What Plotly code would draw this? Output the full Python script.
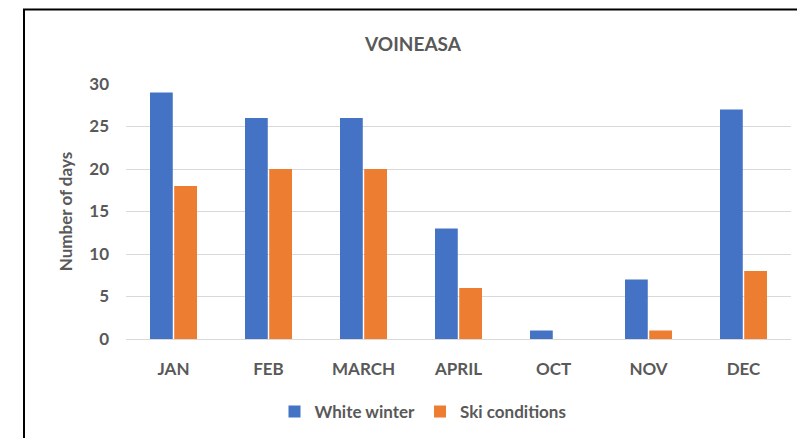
import plotly.graph_objects as go

months = ["JAN", "FEB", "MARCH", "APRIL", "OCT", "NOV", "DEC"]
white_winter = [29, 26, 26, 13, 1, 7, 27]
ski_conditions = [18, 20, 20, 6, 0, 1, 8]

font_fam = "Lato, 'Open Sans', sans-serif"
gray = "#595959"

fig = go.Figure()
fig.add_trace(go.Bar(x=months, y=white_winter, name="White winter",
                     marker=dict(color="#4472C4", line=dict(width=0))))
fig.add_trace(go.Bar(x=months, y=ski_conditions, name="Ski conditions",
                     marker=dict(color="#ED7D31", line=dict(width=0))))

W, H = 797, 438
l, r, t, b = 126, 6, 84, 99
pw = W - l - r
ph = H - t - b

fig.update_layout(
    width=W, height=H,
    margin=dict(l=l, r=r, t=t, b=b),
    paper_bgcolor="white", plot_bgcolor="white",
    barmode="group", bargap=0.49, bargroupgap=0.06,
    title=dict(text="<b>VOINEASA</b>", x=413 / W, xanchor="center",
               y=1 - 44 / H, yanchor="middle",
               font=dict(family=font_fam, size=19, color=gray)),
    font=dict(family=font_fam, color=gray),
    xaxis=dict(tickfont=dict(size=17, color=gray, weight="bold"),
               showgrid=False, showline=False, ticks="", ticklabelstandoff=18),
    yaxis=dict(range=[0, 30], dtick=5, showgrid=True, gridcolor="#d9d9d9",
               gridwidth=1, zeroline=True, zerolinecolor="#d9d9d9", zerolinewidth=1,
               tickfont=dict(size=17, color=gray, weight="bold"),
               ticks="", ticklabelstandoff=16,
               title=dict(text="<b>Number of days</b>", standoff=12,
                          font=dict(size=17, color=gray))),
    legend=dict(orientation="h", x=(423 - l) / pw, xanchor="center",
                y=-(412 - 339) / ph, yanchor="middle",
                font=dict(size=17, color=gray, weight="bold"),
                itemwidth=30, traceorder="normal"),
    shapes=[dict(type="rect", xref="paper", yref="paper",
                 x0=(24 - l) / pw, x1=(820 - l) / pw,
                 y0=(339 - 460) / ph, y1=(339 - 9.5) / ph,
                 line=dict(color="black", width=2), layer="above")],
)

fig.write_html("out.html", config={"displayModeBar": False},
               post_script="document.body.style.margin='0';document.body.style.overflow='hidden';")
